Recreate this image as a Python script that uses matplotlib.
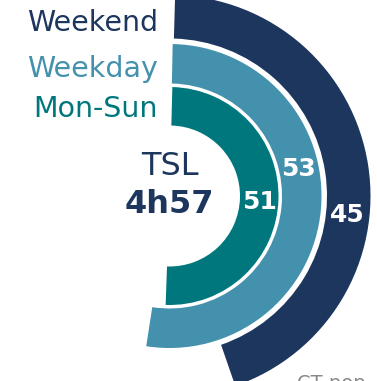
import numpy as np
import matplotlib
matplotlib.use("Agg")
import matplotlib.pyplot as plt

# Share of listening per day segment (outer ring first)
segments = ["Weekend", "Weekday", "Mon-Sun"]
shares = [45, 53, 51]
centre_title = "TSL"
centre_value = "4h57"
footer = "CT pop"

# Styling
colors = ["#1C365D", "#4491AD", "#00777D"]
ring_inner = [157.5, 112.5, 70.5]
ring_outer = [201.0, 152.0, 109.0]
label_angle = [96, 78, 94]          # degrees, clockwise from top
scale_max = 101.7                   # value mapped to a full turn
start_deg = [1.6, 1.2, 1.5]

W, H, DPI = 377, 381, 100
fig = plt.figure(figsize=(W / DPI, H / DPI), dpi=DPI)
fig.patch.set_facecolor("white")

cx, cy, R = 169.5, 196.0, 210.0
ax = fig.add_axes([(cx - R) / W, (H - cy - R) / H, 2 * R / W, 2 * R / H],
                  projection="polar")
ax.set_theta_zero_location("N")
ax.set_theta_direction(-1)
ax.set_rlim(0, R)
ax.set_axis_off()
ax.patch.set_alpha(0)

for val, c, r0, r1, la, s0 in zip(shares, colors, ring_inner, ring_outer,
                                  label_angle, start_deg):
    sweep = np.deg2rad(360.0 * val / scale_max)
    ax.bar(np.deg2rad(s0), r1 - r0, width=sweep, bottom=r0,
           align="edge", color=c, edgecolor="none")
    ax.text(np.deg2rad(la), (r0 + r1) / 2, f"{val}", color="white",
            fontsize=18, fontweight="bold", ha="center", va="center")


def px(x, y):
    return x / W, 1 - y / H


legend_baselines = [31, 77, 117]
for name, c, yb in zip(segments, colors, legend_baselines):
    fig.text(*px(158, yb), name, color=c, fontsize=20.5,
             ha="right", va="baseline")

fig.text(*px(170, 175), centre_title, color=colors[0], fontsize=23,
         ha="center", va="baseline")
fig.text(*px(169, 213), centre_value, color=colors[0], fontsize=23,
         fontweight="bold", ha="center", va="baseline")

fig.text(*px(297, 374), footer, color="#8a8a8a", fontsize=14,
         ha="left", va="top")

fig.savefig("out.png", dpi=DPI, facecolor="white")
